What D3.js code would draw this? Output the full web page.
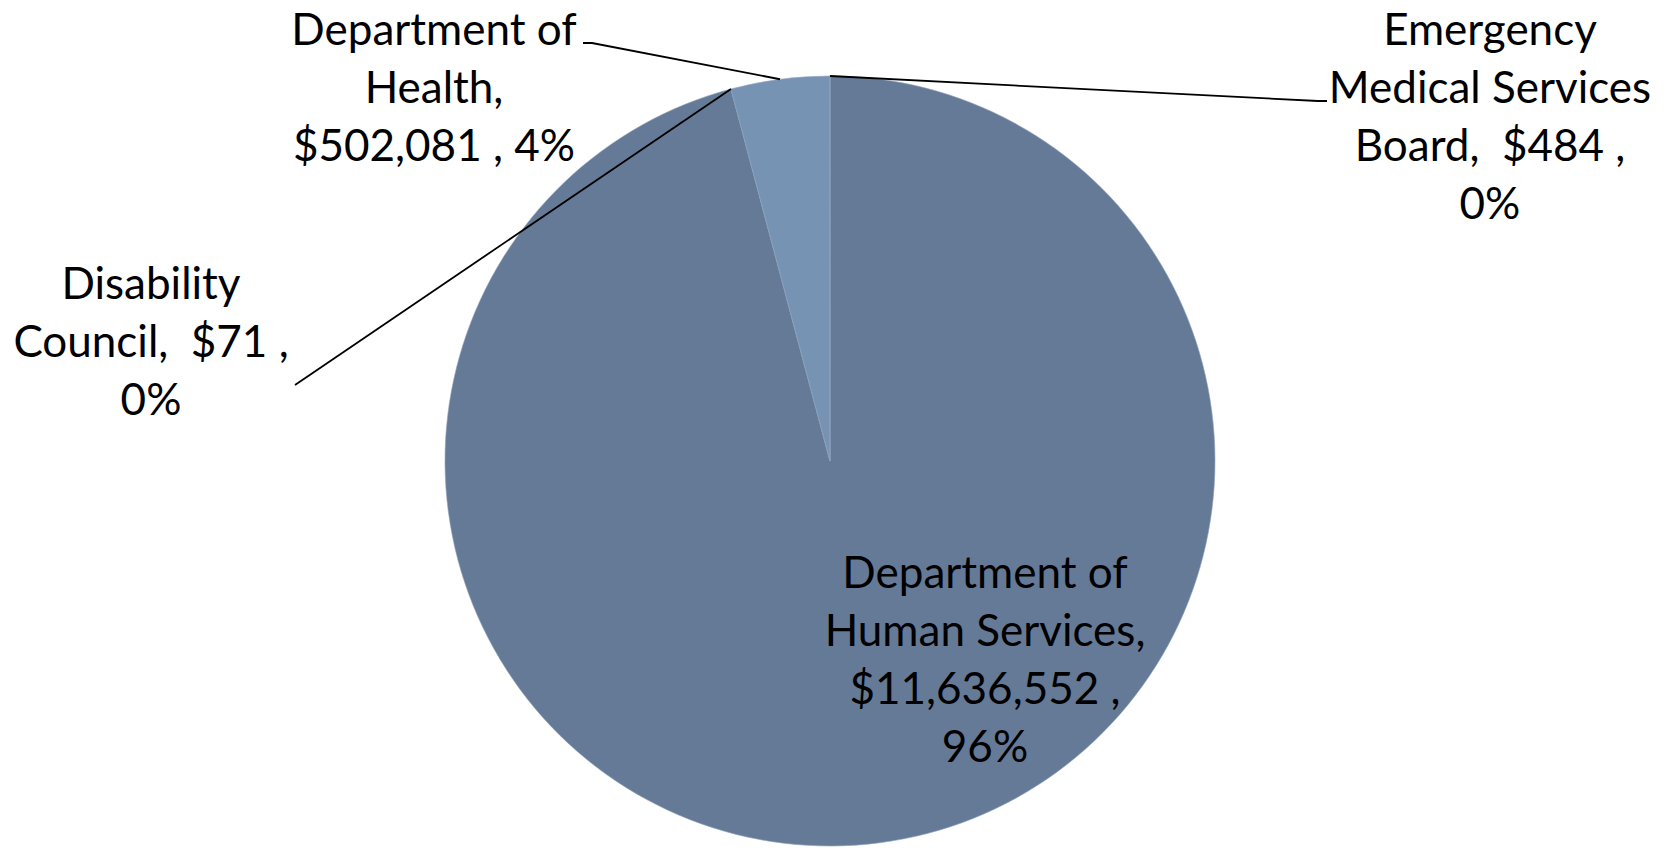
<!DOCTYPE html>
<html><head><meta charset="utf-8">
<script src="https://cdn.jsdelivr.net/npm/d3@7"></script>
<style>html,body{margin:0;padding:0;background:#fff;}svg{display:block;}</style>
</head><body>
<svg id="chart" width="1669" height="848"></svg>
<script>
const categories = ["Department of Human Services", "Disability Council", "Department of Health", "Emergency Medical Services Board"];
const values = [11636552, 71, 502081, 484];
const percentLabels = ["96%", "0%", "4%", "0%"];
const labelLines = [
  ["Department of", "Human Services,", "$11,636,552 ,", "96%"],
  ["Disability", "Council,  $71 ,", "0%"],
  ["Department of", "Health,", "$502,081 , 4%"],
  ["Emergency", "Medical Services", "Board,  $484 ,", "0%"]
];
const colors = ["#657a97", "#6b82a1", "#7793b3", "#6d85a5"];

const svg = d3.select("#chart");
const W = 1669, H = 848;
const cx = 830, cy = 461, R = 385;
const g = svg.append("g").attr("transform", `translate(${cx},${cy})`);

const pie = d3.pie().sort(null).value(d => d)(values);
const arc = d3.arc().innerRadius(0).outerRadius(R);

g.selectAll("path.slice").data(pie).enter().append("path")
  .attr("class", "slice")
  .attr("d", arc)
  .attr("fill", (d, i) => colors[i])
  .attr("stroke", "#8ea3bd").attr("stroke-width", 0.6);

const fontSize = 44;
const lineH = 58;
// label anchors (center x, first baseline y) in chart coords
const labelPos = [
  {x: 985 - cx, y: 588 - cy},
  {x: 151 - cx, y: 299 - cy},
  {x: 434 - cx, y: 45 - cy},
  {x: 1490 - cx, y: 45 - cy}
];
// leader line start (absolute) for outside labels
const leaderStart = [null, [295, 385, 295, 385], [583, 43, 592, 43], [1327, 101, 1318, 101]];

pie.forEach((d, i) => {
  const mid = (d.startAngle + d.endAngle) / 2;
  const px = Math.sin(mid) * R, py = -Math.cos(mid) * R;
  if (leaderStart[i]) {
    const s = leaderStart[i];
    g.append("polyline")
      .attr("points", `${s[0]-cx},${s[1]-cy} ${s[2]-cx},${s[3]-cy} ${px},${py}`)
      .attr("fill", "none").attr("stroke", "#000").attr("stroke-width", 1.8);
  }
  const t = g.append("text")
    .attr("text-anchor", "middle")
    .attr("font-family", "Lato, 'Noto Sans', sans-serif")
    .attr("font-size", fontSize)
    .attr("fill", "#000");
  labelLines[i].forEach((ln, j) => {
    t.append("tspan").attr("x", labelPos[i].x).attr("y", labelPos[i].y + j * lineH)
      .attr("xml:space", "preserve").style("white-space", "pre").text(ln);
  });
});
</script>
</body></html>
